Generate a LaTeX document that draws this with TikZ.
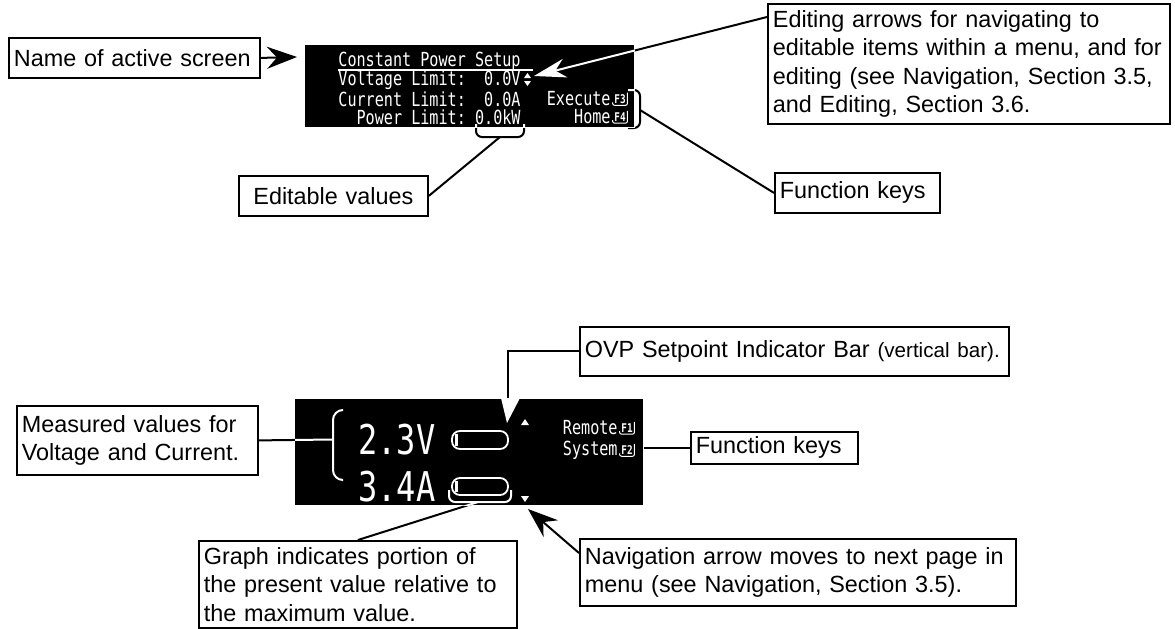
\documentclass[tikz,border=0pt]{standalone}
\usepackage{fontspec}
\setmainfont{Liberation Sans}
\newfontfamily\lcdfont[FakeStretch=0.78]{DejaVu Sans Mono}
\usepackage{tikz}
\usetikzlibrary{arrows.meta}
\usetikzlibrary{positioning}
\newcommand{\callfont}{\fontsize{11.7}{14.25}\selectfont}
\newcommand{\smallcall}{\fontsize{10.3}{12}\selectfont}
\tikzset{callout/.style={draw, line width=0.9pt, anchor=north west, inner xsep=2.5pt, inner ysep=0pt, align=left, font=\callfont}}
\tikzset{screen/.style={fill=black, anchor=north west, inner sep=0pt}}
\tikzset{lcd/.style={text=white, inner sep=0pt, anchor=west, font=\lcdfont\fontsize{9.7}{10}\selectfont}}
\tikzset{bigdigit/.style={lcd, font=\lcdfont\fontsize{20.5}{22}\selectfont}}
\tikzset{fkey/.style={text=white, inner sep=0.7pt, anchor=west, xshift=0.8pt, font=\lcdfont\bfseries\fontsize{6}{6}\selectfont}}
\tikzset{conn/.style={line width=1pt}}
\tikzset{ptr/.style={conn, -{Stealth[length=15pt,width=11pt,inset=5pt]}}}
\tikzset{bar/.style={draw=white, line width=0.9pt, rounded corners=4pt}}
% pointers and brackets: black on paper, white again over the screens
\newcommand{\pointers}[1]{%
  \draw[ptr,#1] (name.east) -- (nametip);
  \draw[ptr,#1,-{Stealth[length=16pt,width=9.5pt,inset=5pt]}] ([yshift=-7pt]edit.north west) -- (edittip);
  \draw[conn,#1,rounded corners=3pt] (476,124) -- (476,137) -- (524,137) -- (524,124);
  \draw[conn,#1] (brEdit) -- (editable.east);
  \draw[conn,#1,rounded corners=3pt] (628,90) -- (640,90) -- (640,128) -- (628,128);
  \draw[conn,#1] (brFkA) -- (fkA.west);
  \draw[conn,#1,rounded corners=5pt] (342,410) -- (333,410) -- (333,480) -- (342,480);
  \draw[conn,#1] (meas.east) -- (brMeas);
  \draw[conn,#1,rounded corners=3pt] (449,490) -- (449,502) -- (511,502) -- (511,490);
  \draw[conn,#1] (brGraph) -- (graph.north);
  \draw[ptr,#1] ([yshift=-7.5pt]nav.north west) -- (navtip);
  \draw[conn,#1] (ovpfoot) |- (ovp.west);
  \draw[conn,#1] (scrB.east |- fkB.west) -- (fkB.west);
}

\begin{document}
\begin{tikzpicture}[x=0.5pt,y=-0.5pt]

    \useasboundingbox (0,0) rectangle (1175,628);

    % the two screens
    \node[screen, minimum width=164.5pt, minimum height=41pt] (scrA) at (305,45) {};
    \node[screen, minimum width=174pt, minimum height=53pt] (scrB) at (295,399) {};

    % callouts
    \node[callout, text width=120.5pt, minimum height=20pt] (name) at (8,37) {Name of active screen};

    \node[callout, text width=89.5pt, minimum height=20pt, align=center] (editable) at (238,175) {Editable values};

    \node[callout, text width=77.5pt, minimum height=20pt] (fkA) at (774,172) {Function keys};

    \node[callout, text width=196pt, minimum height=60pt] (edit) at (767,3) {Editing arrows for navigating to\\ editable items within a menu, and for\\ editing (see Navigation, Section 3.5,\\ and Editing, Section 3.6.};

    \node[callout, text width=209.5pt, minimum height=24.5pt] (ovp) at (579,326) {OVP Setpoint Indicator Bar {\smallcall (vertical bar).}};

    \node[callout, text width=78.5pt, minimum height=16pt] (fkB) at (690,431) {Function keys};

    \node[callout, text width=115.5pt, minimum height=34.5pt] (meas) at (16,405) {Measured values for\\ Voltage and Current.};

    \node[callout, text width=154pt, minimum height=43.5pt] (graph) at (198,540) {Graph indicates portion of\\ the present value relative to\\ the maximum value.};

    \node[callout, text width=213pt, minimum height=33.5pt] (nav) at (579,538) {Navigation arrow moves to next page in\\ menu (see Navigation, Section 3.5).};

    % ends of the pointers
    \coordinate (nametip) at (297,57);
    \coordinate (edittip) at (534,76);
    \coordinate (brEdit) at (500,137);
    \coordinate (brFkA) at (640,110);
    \coordinate (brMeas) at (333,439.5);
    \coordinate (brGraph) at (478,502);
    \coordinate (navtip) at (528,509);
    \coordinate (ovpfoot) at (508,398);

    \pointers{black}
    \begin{scope}
        \clip (scrA.north west) rectangle (scrA.south east) (scrB.north west) rectangle (scrB.south east);
        \pointers{white}
    \end{scope}

    % setup screen
    \node[lcd] (hdr) at (338,61) {Constant Power Setup};
    \draw[white, line width=0.8pt] (338,70) -- (533,70);
    \node[lcd] (vlim) at (338,80) {Voltage~Limit:~~0.0V};
    \fill[white] (524,78) -- (531,78) -- (527.5,73) -- cycle (524,81) -- (531,81) -- (527.5,86) -- cycle;
    \node[lcd] (clim) at (338,99) {Current~Limit:~~0.0A};
    \node[lcd] (plim) at (338,117) {~~Power~Limit:~0.0kW};
    \node[lcd, anchor=east] (exe) at (611,99) {Execute};
    \node[fkey] (kF3) at (exe.east) {F3};
    \node[lcd, anchor=east] (home) at (611,117) {Home};
    \node[fkey] (kF4) at (home.east) {F4};

    % meter screen
    \node[bigdigit] (volt) at (358,440) {2.3V};
    \node[bigdigit] (amp) at (358,487) {3.4A};
    \draw[bar] (452,431) rectangle (508,449);
    \fill[white] (455,434) rectangle (458,446);
    \draw[bar] (452,478) rectangle (508,495);
    \fill[white] (455,481) rectangle (458,492);
    \fill[white] (521,425) -- (529,425) -- (525,419) -- cycle;
    \fill[white] (521,496) -- (529,496) -- (525,502) -- cycle;
    \fill[white] (501,398) -- (520,398) -- (507,423) -- cycle;
    \node[lcd, anchor=east] (rem) at (618,428) {Remote};
    \node[fkey] (kF1) at (rem.east) {F1};
    \node[lcd, anchor=east] (sys) at (618,450) {System};
    \node[fkey] (kF2) at (sys.east) {F2};

    % key icons
    \foreach \k in {kF1,kF2,kF3,kF4}
        \draw[white, line width=0.5pt, rounded corners=1pt] ([yshift=1.5pt]\k.south west) -- (\k.south west) -- (\k.south east) -- (\k.north east);

\end{tikzpicture}
\end{document}
